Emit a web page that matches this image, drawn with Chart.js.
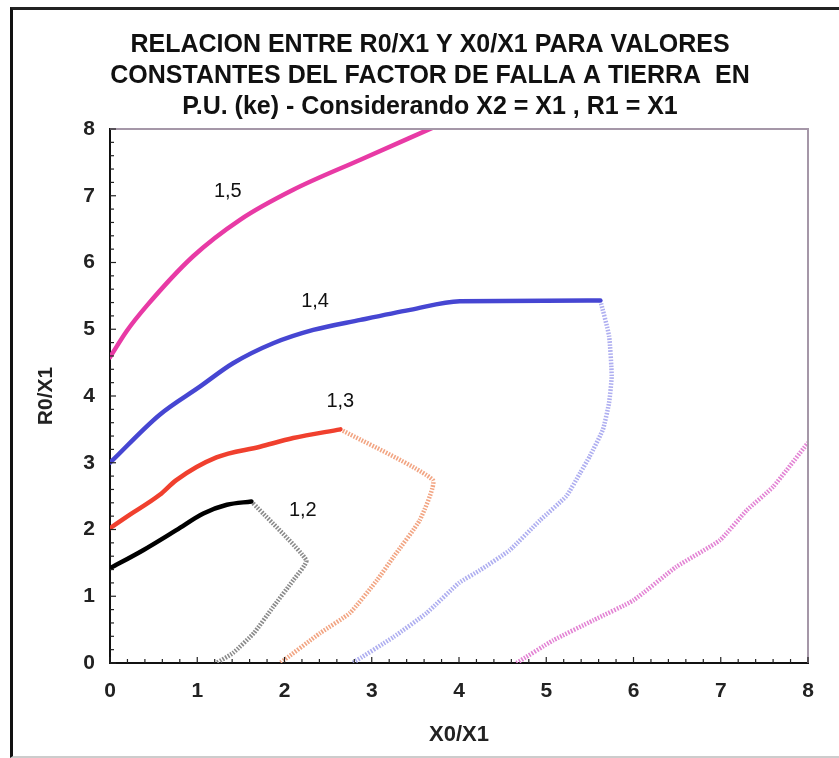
<!DOCTYPE html>
<html>
<head>
<meta charset="utf-8">
<script src="https://cdn.jsdelivr.net/npm/chart.js@4/dist/chart.umd.min.js"></script>
<style>
  html, body { margin: 0; padding: 0; background: #fff; }
  #wrap { position: relative; width: 839px; height: 758px; overflow: hidden; }
  #frame { position: absolute; left: 10px; top: 7px; width: 840px; height: 746px;
           border-left: 3px solid #111; border-top: 3px solid #222; border-bottom: 2px solid #ccc; }
  canvas { position: absolute; left: 0; top: 0; }
</style>
</head>
<body>
<div id="wrap">
  <div id="frame"></div>
  <canvas id="c" width="839" height="758"></canvas>
</div>
<script>
// ---- data ----
const titleLines = ['RELACION ENTRE R0/X1 Y X0/X1 PARA VALORES', 'CONSTANTES DEL FACTOR DE FALLA A TIERRA  EN'];
const subtitleText = 'P.U. (ke) - Considerando X2 = X1 , R1 = X1';
const xAxisTitle = 'X0/X1';
const yAxisTitle = 'R0/X1';
const xTicks = [0, 1, 2, 3, 4, 5, 6, 7, 8];
const yTicks = [0, 1, 2, 3, 4, 5, 6, 7, 8];

// ke = 1,5 (solid branch and dashed branch)
const k15X = [0, 0.19, 0.42, 0.95, 1.49, 2.10, 2.87, 3.70];
const k15Y = [4.58, 4.97, 5.35, 6.09, 6.64, 7.09, 7.54, 8.02];
const k15bX = [4.66, 5.08, 5.54, 6.00, 6.49, 6.99, 7.30, 7.60, 8.00];
const k15bY = [0, 0.34, 0.64, 0.94, 1.44, 1.84, 2.29, 2.64, 3.30];
// ke = 1,4
const k14X = [0, 0.57, 1.03, 1.41, 1.87, 2.33, 2.87, 3.44, 4.01, 5.62];
const k14Y = [3.00, 3.72, 4.14, 4.49, 4.79, 4.99, 5.14, 5.29, 5.42, 5.43];
const k14bX = [5.62, 5.72, 5.75, 5.72, 5.65, 5.50, 5.39, 5.23, 4.93, 4.58, 4.24, 4.00, 3.63, 3.25, 2.78];
const k14bY = [5.43, 4.90, 4.30, 3.90, 3.50, 3.10, 2.85, 2.50, 2.14, 1.69, 1.39, 1.20, 0.75, 0.39, 0];
// ke = 1,3
const k13X = [0, 0.19, 0.57, 0.76, 1.22, 1.72, 2.10, 2.64];
const k13Y = [2.02, 2.19, 2.52, 2.74, 3.08, 3.24, 3.37, 3.50];
const k13bX = [2.64, 3.70, 3.55, 3.25, 3.06, 2.75, 2.41, 1.95];
const k13bY = [3.50, 2.74, 2.14, 1.59, 1.24, 0.75, 0.45, 0];
// ke = 1,2
const k12X = [0, 0.38, 0.76, 1.07, 1.34, 1.62];
const k12Y = [1.42, 1.69, 1.99, 2.24, 2.37, 2.42];
const k12bX = [1.62, 2.25, 2.10, 1.87, 1.65, 1.41, 1.22];
const k12bY = [2.42, 1.54, 1.24, 0.84, 0.45, 0.15, 0];

// curve labels
const curveLabels = ['1,5', '1,4', '1,3', '1,2'];
const curveLabelX = [1.35, 2.35, 2.64, 2.21];
const curveLabelY = [7.07, 5.41, 3.92, 2.29];

// ---- build ----
const pts = (xs, ys) => xs.map((x, i) => ({ x: x, y: ys[i] }));
const solid = (label, xs, ys, color) => ({
  label, data: pts(xs, ys), borderColor: color, backgroundColor: color,
  borderWidth: 4.5, pointRadius: 0, showLine: true, cubicInterpolationMode: 'monotone', clip: 0,
  borderCapStyle: 'round', borderJoinStyle: 'round'
});
const dashed = (label, xs, ys, color) => ({
  label, data: pts(xs, ys), borderColor: color, backgroundColor: color,
  borderWidth: 4.5, pointRadius: 0, showLine: true, tension: 0.15, clip: 0,
  borderDash: [1.6, 1.4]
});

const narrow = "'Liberation Sans Narrow', 'Arial Narrow', 'Liberation Sans', Arial, sans-serif";
const sans = "'Liberation Sans', Arial, sans-serif";

const framePlugin = {
  id: 'framePlugin',
  afterDraw(chart) {
    const { ctx, chartArea: a, scales: { x, y } } = chart;
    ctx.save();
    // top and right frame of plot area
    ctx.strokeStyle = '#a597a8';
    ctx.lineWidth = 2;
    ctx.beginPath();
    ctx.moveTo(a.left, a.top); ctx.lineTo(a.right, a.top); ctx.lineTo(a.right, a.bottom);
    ctx.stroke();
    // inward ticks
    ctx.strokeStyle = '#222';
    ctx.lineWidth = 1.2;
    for (let i = 0; i <= 40; i++) {
      const v = i * 0.2;
      const len = (i % 5 === 0) ? 6 : 4;
      const px = x.getPixelForValue(v);
      ctx.beginPath(); ctx.moveTo(px, a.bottom); ctx.lineTo(px, a.bottom - len); ctx.stroke();
      const py = y.getPixelForValue(v);
      ctx.beginPath(); ctx.moveTo(a.left, py); ctx.lineTo(a.left + len, py); ctx.stroke();
    }
    // curve labels
    ctx.fillStyle = '#111';
    ctx.font = "20px " + sans;
    ctx.textAlign = 'center';
    ctx.textBaseline = 'middle';
    curveLabels.forEach((t, i) => {
      ctx.fillText(t, x.getPixelForValue(curveLabelX[i]), y.getPixelForValue(curveLabelY[i]));
    });
    ctx.restore();
  }
};

new Chart(document.getElementById('c'), {
  type: 'scatter',
  data: {
    datasets: [
      solid('1,5', k15X, k15Y, '#e83aa5'),
      dashed('1,5 b', k15bX, k15bY, '#e384d4'),
      solid('1,4', k14X, k14Y, '#4646d2'),
      dashed('1,4 b', k14bX, k14bY, '#aeaef0'),
      solid('1,3', k13X, k13Y, '#f0402e'),
      dashed('1,3 b', k13bX, k13bY, '#f2a583'),
      solid('1,2', k12X, k12Y, '#000000'),
      dashed('1,2 b', k12bX, k12bY, '#8a8a8a')
    ]
  },
  options: {
    responsive: false,
    animation: false,
    layout: { padding: { left: 52, right: 31, top: 20, bottom: 6 } },
    plugins: {
      legend: { display: false },
      tooltip: { enabled: false },
      title: {
        display: true, text: titleLines, color: '#111',
        font: { family: narrow, size: 25, weight: 'bold', lineHeight: '31px' },
        padding: { top: 10, bottom: 2 }
      },
      subtitle: {
        display: true, text: subtitleText, color: '#111',
        font: { family: narrow, size: 25, weight: 'bold', lineHeight: '26px' },
        padding: { top: 0, bottom: 9 }
      }
    },
    scales: {
      x: {
        type: 'linear', position: 'bottom', min: 0, max: 8,
        afterFit: (s) => { s.height = 89; },
        afterBuildTicks: (s) => { s.ticks = xTicks.map(v => ({ value: v })); },
        ticks: { color: '#222', padding: 16, font: { family: sans, size: 21, weight: 'bold' } },
        grid: { display: true, drawOnChartArea: false, drawTicks: false },
        border: { display: true, color: '#111', width: 2 },
        title: { display: true, text: xAxisTitle, color: '#222', padding: { top: 4, bottom: 4 },
                 font: { family: narrow, size: 22, weight: 'bold' } }
      },
      y: {
        type: 'linear', position: 'left', min: 0, max: 8,
        afterFit: (s) => { s.width = 58; },
        afterBuildTicks: (s) => { s.ticks = yTicks.map(v => ({ value: v })); },
        ticks: { color: '#222', padding: 15, font: { family: sans, size: 21, weight: 'bold' } },
        grid: { display: true, drawOnChartArea: false, drawTicks: false },
        border: { display: true, color: '#111', width: 2 },
        title: { display: true, text: yAxisTitle, color: '#222', padding: { top: -18, bottom: 4 },
                 font: { family: narrow, size: 21, weight: 'bold' } }
      }
    }
  },
  plugins: [framePlugin]
});
</script>
</body>
</html>
